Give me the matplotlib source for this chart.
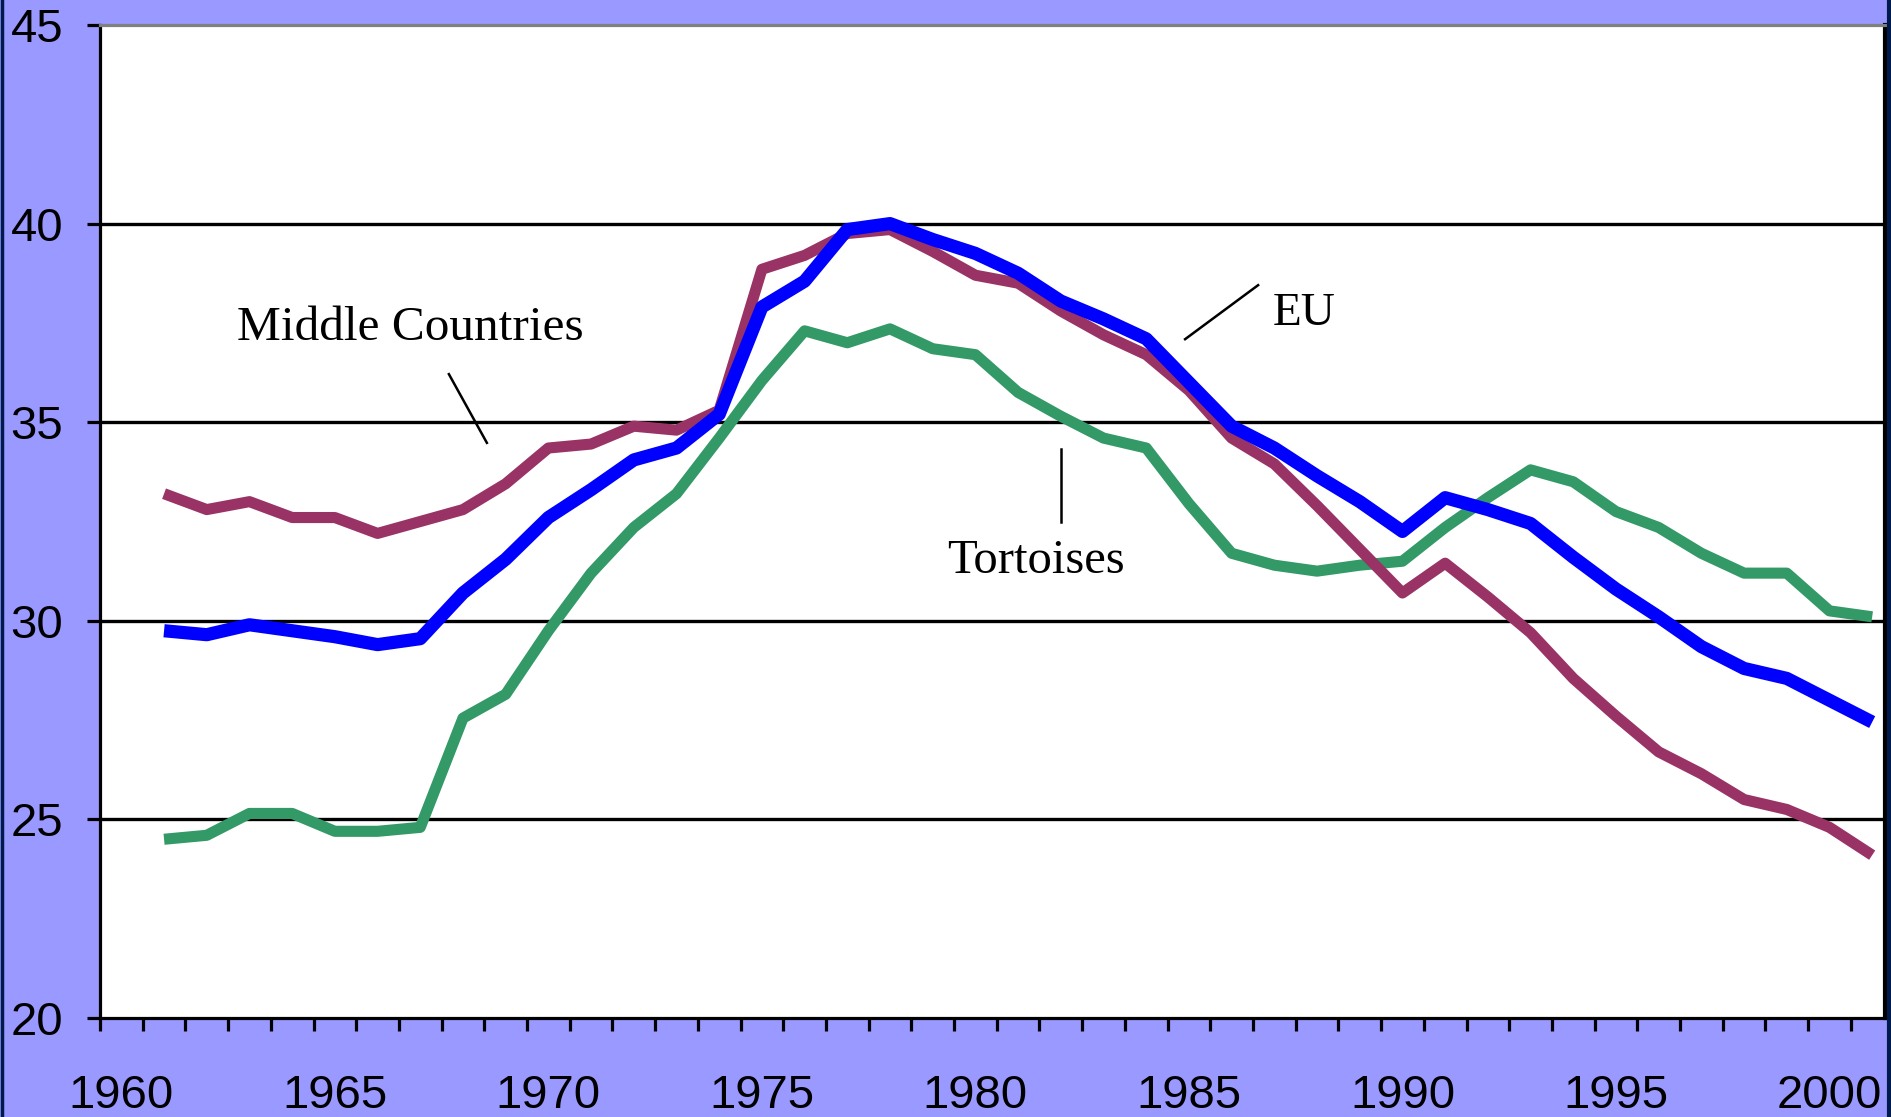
import matplotlib
matplotlib.use("Agg")
import matplotlib.pyplot as plt
import numpy as np

years = list(range(1961, 2002))

middle = [33.2, 32.8, 33.0, 32.6, 32.6, 32.2, 32.5, 32.8, 33.45, 34.35,
          34.45, 34.9, 34.8, 35.3, 38.85, 39.2, 39.75, 39.85, 39.3, 38.7,
          38.5, 37.8, 37.2, 36.7, 35.8, 34.6, 33.95, 32.9, 31.8, 30.7,
          31.45, 30.6, 29.7, 28.55, 27.6, 26.7, 26.15, 25.5, 25.25, 24.8,
          24.1]

eu = [29.75, 29.65, 29.9, 29.75, 29.6, 29.4, 29.55, 30.7, 31.55, 32.6,
      33.3, 34.05, 34.35, 35.2, 37.9, 38.55, 39.85, 40.0, 39.6, 39.25,
      38.75, 38.05, 37.6, 37.1, 36.0, 34.9, 34.35, 33.65, 33.0, 32.25,
      33.1, 32.8, 32.45, 31.6, 30.8, 30.1, 29.35, 28.8, 28.55, 28.0,
      27.45]

tortoises = [24.5, 24.6, 25.15, 25.15, 24.7, 24.7, 24.8, 27.55, 28.15, 29.75,
             31.2, 32.35, 33.2, 34.6, 36.05, 37.3, 37.0, 37.35, 36.85, 36.7,
             35.75, 35.15, 34.6, 34.35, 32.95, 31.7, 31.4, 31.25, 31.4, 31.5,
             32.35, 33.1, 33.8, 33.5, 32.75, 32.35, 31.7, 31.2, 31.2, 30.25,
             30.1]

year_labels = [1960, 1965, 1970, 1975, 1980, 1985, 1990, 1995, 2000]
y_ticks = [20, 25, 30, 35, 40, 45]

bg = "#9999FF"

fig = plt.figure(figsize=(18.91, 11.17), dpi=100, facecolor=bg)
W, H = 1891, 1117
ax = fig.add_axes([100 / W, (H - 1018) / H, 1785 / W, 993 / H])
ax.set_facecolor("white")

for y in [25, 30, 35, 40]:
    ax.axhline(y, color="black", lw=2.4, zorder=1)

ax.plot(years, tortoises, color="#339966", lw=8, zorder=3, solid_capstyle="butt")
ax.plot(years, middle, color="#993366", lw=8, zorder=3, solid_capstyle="butt")
ax.plot(years, eu, color="#0000FF", lw=9.5, zorder=4, solid_capstyle="butt")

ax.set_xlim(1959.5, 2001.3)
ax.set_ylim(20, 45)

ax.set_yticks(y_ticks)
ax.set_yticklabels([str(v) for v in y_ticks])
ax.set_xticks(year_labels)
ax.set_xticklabels([str(v) for v in year_labels])
ax.set_xticks(np.arange(1959.5, 2001.5, 1), minor=True)

ax.tick_params(axis="x", which="major", length=0, pad=40, labelsize=34)
ax.tick_params(axis="x", which="minor", length=9.4, width=2.3, direction="out")
ax.tick_params(axis="y", which="major", length=9.4, width=2.3, direction="out",
               pad=17, labelsize=34)
for lab in ax.get_xticklabels() + ax.get_yticklabels():
    lab.set_fontfamily("Liberation Sans")

for s in ["left", "bottom"]:
    ax.spines[s].set_linewidth(2.3)
    ax.spines[s].set_color("black")
ax.spines["right"].set_linewidth(3)
ax.spines["right"].set_color("black")
ax.spines["top"].set_linewidth(2.3)
ax.spines["top"].set_color("#808080")

# annotations
serif = "Liberation Serif"
ax.text(1962.71, 37.07, "Middle Countries", fontsize=35.5, family=serif,
        ha="left", va="baseline")
ax.plot([1967.67, 1968.56], [36.21, 34.48], color="black", lw=1.8)
ax.text(1986.97, 37.45, "EU", fontsize=34, family=serif,
        ha="left", va="baseline")
ax.plot([1984.91, 1986.62], [37.09, 38.45], color="black", lw=1.8)
ax.text(1979.34, 31.20, "Tortoises", fontsize=35, family=serif,
        ha="left", va="baseline")
ax.plot([1982.01, 1982.01], [34.33, 32.49], color="black", lw=1.8)

# dark frame edges of the chart area
fig.add_artist(plt.Line2D([1.5 / W, 1.5 / W], [0, 1], color="#001a4d", lw=2.5,
                          transform=fig.transFigure))
fig.add_artist(plt.Line2D([1 - 2 / W, 1 - 2 / W], [0, 1], color="#001a4d", lw=3,
                          transform=fig.transFigure))

fig.savefig("out.png", dpi=100, facecolor=bg)
